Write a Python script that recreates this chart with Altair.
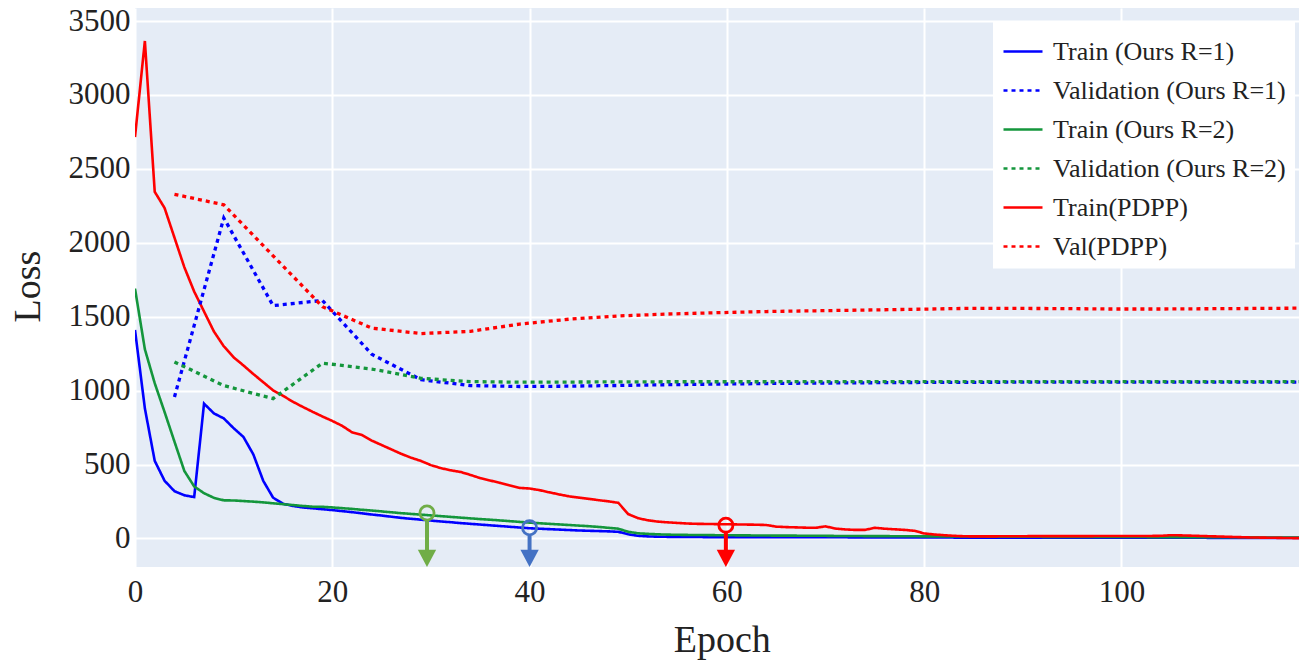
import altair as alt
import pandas as pd

FONT = "Liberation Serif"

# ---------------- data ----------------
epochs_train = list(range(120))

train_r1 = [
    1410, 880, 525, 390, 320, 292, 280, 912, 846, 812,
    746, 686, 568, 390, 276, 235, 220, 210, 204, 198,
    192, 185, 178, 170, 162, 155, 147, 139, 133, 127,
    121, 115, 110, 104, 99, 94, 89, 84, 79, 74,
    69, 66, 63, 60, 57, 54, 52, 50, 48, 45,
    28, 18, 14, 12, 11, 10, 10, 10, 9, 9,
    9, 9, 9, 9, 8, 8, 8, 8, 8, 8,
    8, 8, 8, 7, 7, 7, 7, 7, 7, 7,
    7, 7, 7, 6, 6, 6, 6, 6, 6, 6,
    6, 6, 6, 6, 6, 6, 5, 5, 5, 5,
    5, 5, 5, 5, 5, 5, 5, 5, 5, 4,
    4, 4, 4, 4, 4, 4, 4, 4, 4, 4,
]

train_r2 = [
    1690, 1280, 1050, 855, 655, 457, 352, 306, 275, 258,
    257, 253, 249, 244, 238, 232, 226, 220, 215, 214,
    210, 205, 200, 194, 189, 183, 177, 171, 166, 161,
    156, 151, 146, 141, 136, 131, 127, 122, 117, 112,
    107, 103, 99, 95, 91, 87, 83, 78, 72, 66,
    45, 35, 31, 28, 26, 25, 24, 23, 23, 22,
    22, 21, 21, 20, 20, 19, 19, 19, 18, 18,
    18, 17, 17, 17, 16, 16, 16, 15, 15, 15,
    14, 14, 14, 13, 13, 13, 13, 12, 12, 12,
    12, 12, 11, 11, 11, 11, 11, 10, 10, 10,
    10, 10, 10, 9, 9, 9, 9, 9, 8, 8,
    8, 8, 8, 8, 7, 7, 7, 7, 6, 6,
]

train_pdpp = [
    2715, 3365, 2345, 2235, 2035, 1835, 1670, 1535, 1400, 1300,
    1225, 1170, 1112, 1057, 1002, 965, 925, 890, 857, 825,
    795, 762, 718, 700, 662, 632, 602, 572, 546, 524,
    496, 476, 461, 450, 430, 408, 392, 376, 358, 342,
    338, 327, 312, 298, 285, 276, 268, 259, 251, 241,
    165, 137, 123, 114, 109, 105, 101, 99, 98, 97,
    96, 95, 94, 93, 91, 80, 77, 75, 73, 72,
    82, 67, 61, 58, 58, 72, 66, 62, 58, 52,
    34, 27, 22, 18, 15, 14, 14, 14, 15, 15,
    15, 16, 16, 16, 16, 16, 16, 16, 17, 17,
    17, 17, 17, 17, 18, 22, 21, 19, 17, 15,
    13, 11, 9, 7, 6, 5, 4, 3, 2, 2,
]

epochs_val = list(range(4, 120, 5))

val_r1 = [957, 2168, 1575, 1610, 1246, 1074, 1034, 1028, 1030, 1035, 1040, 1044,
          1048, 1051, 1053, 1055, 1056, 1057, 1057, 1057, 1057, 1057, 1057, 1057]

val_r2 = [1194, 1034, 946, 1186, 1146, 1083, 1061, 1057, 1058, 1059, 1060, 1060,
          1060, 1061, 1061, 1061, 1061, 1061, 1061, 1061, 1061, 1061, 1061, 1061]

val_pdpp = [2328, 2257, 1912, 1568, 1423, 1386, 1401, 1450, 1483, 1505, 1518, 1527,
            1535, 1540, 1545, 1550, 1556, 1556, 1555, 1552, 1552, 1554, 1556, 1558]

series_labels = [
    "\u00a0Train (Ours R=1)",
    "Validation (Ours R=1)",
    "Train (Ours R=2)",
    "Validation (Ours R=2)",
    "Train(PDPP)",
    "Val(PDPP)",
]
series_colors = ["#0000FF", "#0000FF", "#14963C", "#14963C", "#FF0000", "#FF0000"]
series_dashes = [[1, 0], [4, 4], [1, 0], [4, 4], [1, 0], [4, 4]]

# marker arrows (epoch of the open circle, loss at the circle)
arrow_epochs = [29.6, 40.0, 59.9]
arrow_losses = [172, 72, 90]
arrow_colors = ["#70AD47", "#4472C4", "#FF0000"]

x_ticks = [0, 20, 40, 60, 80, 100]
y_ticks = [0, 500, 1000, 1500, 2000, 2500, 3000, 3500]
X_DOMAIN = [0, 118]
Y_DOMAIN = [-193, 3588]

# ---------------- build tables ----------------
series_data = [
    (series_labels[0], epochs_train, train_r1, "train"),
    (series_labels[1], epochs_val, val_r1, "val"),
    (series_labels[2], epochs_train, train_r2, "train"),
    (series_labels[3], epochs_val, val_r2, "val"),
    (series_labels[4], epochs_train, train_pdpp, "train"),
    (series_labels[5], epochs_val, val_pdpp, "val"),
]
rows = []
for lab, xs, ys, kind in series_data:
    for xv, yv in zip(xs, ys):
        rows.append({"epoch": xv, "loss": yv, "series": lab, "kind": kind})
df = pd.DataFrame(rows)

ann = pd.DataFrame({"epoch": arrow_epochs, "loss": arrow_losses, "col": arrow_colors})

x_scale = alt.Scale(domain=X_DOMAIN, nice=False, zero=False)
y_scale = alt.Scale(domain=Y_DOMAIN, nice=False, zero=False)

x_axis = alt.Axis(values=x_ticks, format="d", title="Epoch", titleX=586.7, titleY=84,
                  titleBaseline="alphabetic", titleAlign="center", labelPadding=10,
                  labelFlush=False)
y_axis = alt.Axis(values=y_ticks, format="d", title="Loss", titleX=-96, titleY=278,
                  titleBaseline="alphabetic", titleAlign="center", labelPadding=5,
                  labelFlush=False)

color_enc = alt.Color("series:N", title=None,
                      scale=alt.Scale(domain=series_labels, range=series_colors))
dash_enc = alt.StrokeDash("series:N", title=None,
                          scale=alt.Scale(domain=series_labels, range=series_dashes))

base = alt.Chart(df).encode(
    x=alt.X("epoch:Q", scale=x_scale, axis=x_axis),
    y=alt.Y("loss:Q", scale=y_scale, axis=y_axis),
    color=color_enc,
    strokeDash=dash_enc,
)

train_lines = base.mark_line(clip=True, strokeWidth=2.6).transform_filter(
    alt.datum.kind == "train")
val_lines = base.mark_line(clip=True, strokeWidth=3.3).transform_filter(
    alt.datum.kind == "val")

rules = alt.Chart(ann).mark_rule(strokeWidth=4, yOffset=7.5, y2Offset=-15).encode(
    x="epoch:Q",
    y="loss:Q",
    y2=alt.datum(Y_DOMAIN[0]),
    stroke=alt.Stroke("col:N", scale=None),
)

circles = alt.Chart(ann).mark_point(shape="circle", filled=False, size=200,
                                    strokeWidth=2.8, opacity=1).encode(
    x="epoch:Q",
    y="loss:Q",
    stroke=alt.Stroke("col:N", scale=None),
)

triangles = alt.Chart(ann).mark_point(shape="M-1,-0.95L1,-0.95L0,0.95Z", filled=True,
                                      size=335, strokeWidth=0, opacity=1,
                                      yOffset=-8.6).encode(
    x="epoch:Q",
    y=alt.datum(Y_DOMAIN[0]),
    fill=alt.Fill("col:N", scale=None),
)

chart = alt.layer(train_lines, val_lines, rules, circles, triangles).properties(
    width=1164,
    height=559,
    autosize="none",
    padding={"left": 127, "top": 0, "right": 0, "bottom": 93},
).configure_view(
    fill="#E5ECF6", strokeWidth=0
).configure_axis(
    grid=True, gridColor="white", gridWidth=2, domain=False, ticks=False,
    labelFont=FONT, labelFontSize=31, labelColor="#222222",
    titleFont=FONT, titleFontSize=38, titleFontWeight="normal", titleColor="#222222",
).configure_legend(
    orient="none", legendX=858, legendY=13.5, fillColor="white", padding=9,
    labelFont=FONT, labelFontSize=26, labelColor="#222222", labelLimit=0,
    symbolSize=1521, symbolStrokeWidth=2.6, symbolType="stroke",
    labelOffset=9, rowPadding=5,
)

chart.save("out.html", embed_options={"renderer": "svg", "actions": False})
